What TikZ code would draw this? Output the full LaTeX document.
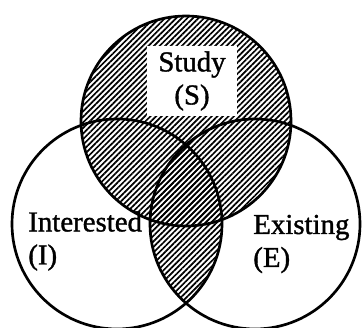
\documentclass[tikz,border=0pt]{standalone}
\usepackage{fontspec}
\setmainfont{Liberation Serif}
\newfontfamily\scanfamily{Liberation Serif}[FakeBold=1.2]
\usetikzlibrary{patterns.meta}

\begin{document}
\begin{tikzpicture}[x=0.025cm, y=0.025cm, line width=1.9pt]
    % Sizes (one unit = one pixel of the original)
    \def\rad{105}
    \def\labelfont{\scanfamily\fontsize{20.5}{23.5}\selectfont}

    \tikzset{
        hatch/.style={pattern={Lines[angle=45,distance=2.8pt,line width=1.2pt]}},
        setlabel/.style={font=\labelfont, inner sep=0pt}
    }

    \useasboundingbox (0,0) rectangle (362,328);

    % Circle centres
    \coordinate (cS) at (186,207);
    \coordinate (cI) at (117,104);
    \coordinate (cE) at (255,104);

    % Hatched parts: S and the overlap of I and E
    \fill[hatch] (cS) circle[radius=\rad];
    \begin{scope}
        \clip (cI) circle[radius=\rad];
        \fill[hatch] (cE) circle[radius=\rad];
    \end{scope}

    % Outlines
    \draw (cS) circle[radius=\rad];
    \draw (cI) circle[radius=\rad];
    \draw (cE) circle[radius=\rad];

    % Labels
    \node[setlabel, fill=white, align=center, minimum width=2.25cm, minimum height=1.75cm] (study) at (192,247) {Study\\(S)};
    \node[setlabel, align=left, anchor=west] (interested) at (27,87) {Interested\\(I)};
    \node[setlabel, align=left, anchor=west] (existing) at (252,84) {Existing\\(E)};

\end{tikzpicture}
\end{document}
